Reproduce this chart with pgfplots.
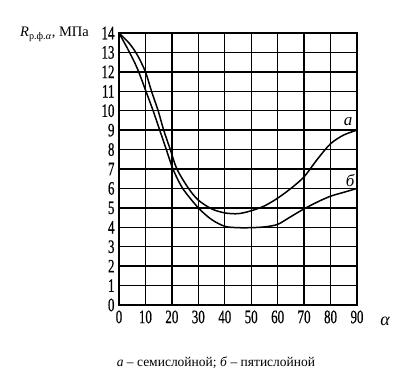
\documentclass[border=0pt]{standalone}
\usepackage{fontspec}
\setmainfont{Liberation Serif}
\newfontfamily\tickfont[FakeStretch=0.68,FakeBold=0.6]{Liberation Serif}
\usepackage{pgfplots}
\pgfplotsset{compat=1.18}
\begin{document}
\begin{tikzpicture}
\begin{axis}[
  scale only axis,
  width=238pt, height=272pt,
  xmin=0, xmax=90, ymin=0, ymax=14,
  xtick={0,10,...,90}, ytick={0,1,...,14},
  grid=major,
  major grid style={black, line width=1.4pt},
  axis line style={black, line width=1.6pt},
  major tick length=0pt,
  /pgf/number format/assume math mode=true,
  ticklabel style={font=\fontsize{19}{19}\tickfont},
  yticklabel style={xshift=-1pt},
  xticklabel style={yshift=-2pt},
  clip=false,
]
\addplot[black, line width=1.5pt, smooth, tension=0.5] coordinates {
 (0,14) (4,13.45) (7,12.85) (10,12.0) (12.3,11.0) (14.8,10) (16.9,9) (19.4,8) (21.9,7) (26.3,6) (30,5.4) (35,4.95) (40,4.74) (45,4.7) (50,4.85) (55,5.1) (60,5.5) (65,6.0) (70,6.6) (75,7.5) (80,8.3) (85,8.75) (90,9.0)};
\addplot[black, line width=1.5pt, smooth, tension=0.5] coordinates {
 (0,14) (4,13.0) (7,12.15) (10,11.07) (12.9,10) (15.4,9) (17.9,8) (20.4,7) (24.1,6) (30,5.0) (35,4.4) (40,4.05) (45,3.98) (50,3.98) (55,4.02) (60,4.15) (65,4.55) (70,4.95) (75,5.3) (80,5.6) (85,5.8) (90,6.0)};
\node[font=\fontsize{17}{17}\selectfont\itshape] at (axis cs:86.6,9.45) {а};
\node[font=\fontsize{17}{17}\selectfont\itshape] at (axis cs:87.4,6.4) {б};
\end{axis}
\node[anchor=base west, inner sep=0pt, font=\fontsize{14.5}{14.5}\selectfont] at (-99pt,268pt) {\textit{R}\textsubscript{р.ф.\textit{α}}, МПа};
\node[anchor=base, font=\fontsize{18}{18}\selectfont\itshape] at (266pt,-21pt) {α};
\node[anchor=base, font=\fontsize{13.5}{13.5}\selectfont] at (97pt,-61pt) {\textit{а} – семислойной; \textit{б} – пятислойной};
\path (-119pt,-80pt) rectangle (293pt,305pt);
\end{tikzpicture}
\end{document}
